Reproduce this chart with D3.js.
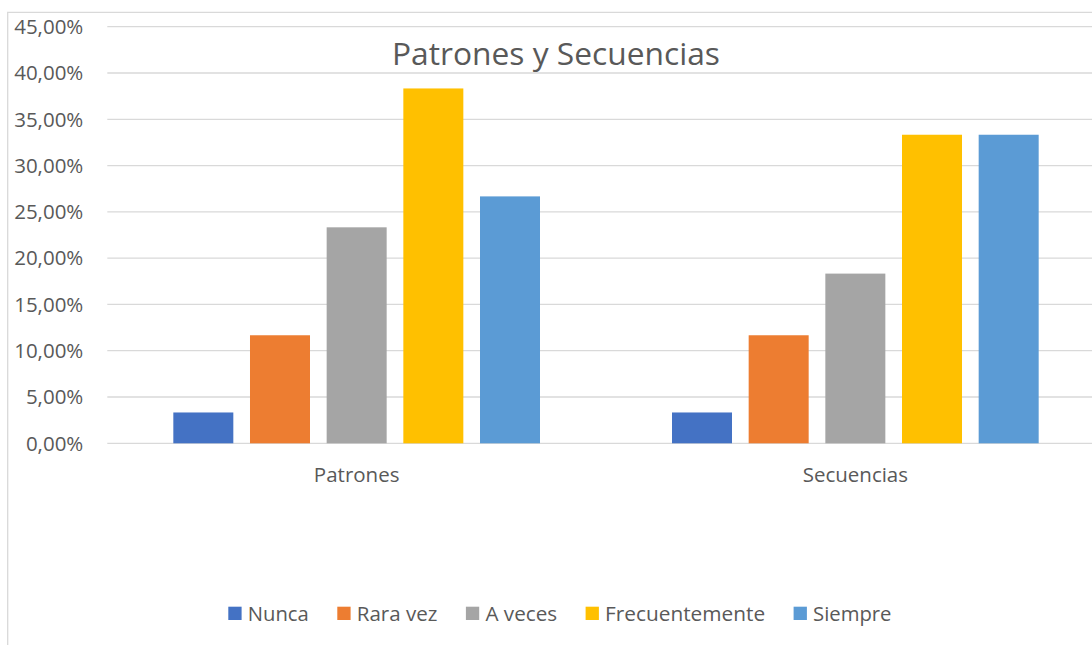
<!DOCTYPE html>
<html>
<head>
<meta charset="utf-8">
<script src="https://cdn.jsdelivr.net/npm/d3@7"></script>
<style>
  html, body { margin: 0; padding: 0; background: #fff; }
  svg { display: block; }
  text { font-family: "Open Sans", "Noto Sans", sans-serif; fill: #595959; }
</style>
</head>
<body>
<svg id="chart" width="1092" height="645"></svg>
<script>
// ---- data ----
const title = "Patrones y Secuencias";
const categories = ["Patrones", "Secuencias"];
const series = ["Nunca", "Rara vez", "A veces", "Frecuentemente", "Siempre"];
const patronesValues = [0.0333, 0.1167, 0.2333, 0.3833, 0.2667];
const secuenciasValues = [0.0333, 0.1167, 0.1833, 0.3333, 0.3333];
const yTicks = [0, 0.05, 0.10, 0.15, 0.20, 0.25, 0.30, 0.35, 0.40, 0.45];
const seriesColors = ["#4472C4", "#ED7D31", "#A5A5A5", "#FFC000", "#5B9BD5"];

// ---- layout (not data) ----
const W = 1092, H = 645;
const plot = { left: 107.3, right: 1104.7, top: 26.7, bottom: 443.3 };
const legendTextWidths = [61, 80.6, 71.7, 160, 78.4];

const svg = d3.select("#chart");
svg.append("rect").attr("width", W).attr("height", H).attr("fill", "#fff");

// outer border (chart area frame, cropped)
svg.append("path")
  .attr("d", `M7.7,${H} V12.3 H${W}`)
  .attr("fill", "none").attr("stroke", "#D9D9D9").attr("stroke-width", 1.3);

const y = d3.scaleLinear().domain([0, 0.45]).range([plot.bottom, plot.top]);
const x0 = d3.scaleBand().domain(categories).range([plot.left, plot.right])
  .paddingInner(0.2647).paddingOuter(0.1324);
const x1 = d3.scaleBand().domain(series).range([0, x0.bandwidth()])
  .paddingInner(0.2174).paddingOuter(0);

const locale = d3.formatLocale({ decimal: ",", thousands: ".", grouping: [3], currency: ["", "€"] });
const fmt = locale.format(".2%");

// gridlines
svg.append("g").selectAll("line").data(yTicks).join("line")
  .attr("x1", plot.left).attr("x2", W)
  .attr("y1", d => y(d)).attr("y2", d => y(d))
  .attr("stroke", "#D9D9D9").attr("stroke-width", 1.3);

// y axis labels via d3 axis
const yAxis = d3.axisLeft(y).tickValues(yTicks).tickFormat(fmt).tickSize(0).tickPadding(0);
const yg = svg.append("g").attr("transform", "translate(83.3,0)").call(yAxis);
yg.select(".domain").remove();
yg.selectAll("text")
  .attr("font-family", null)
  .attr("font-size", null)
  .style("font-size", "20.5px")
  .style("fill", "#595959")
  .attr("dy", "0.33em");

// title
svg.append("text")
  .attr("x", 556).attr("y", 65)
  .attr("text-anchor", "middle")
  .style("font-size", "31px")
  .attr("textLength", 328).attr("lengthAdjust", "spacingAndGlyphs")
  .text(title);

// bars
const dataByCat = [patronesValues, secuenciasValues];
const groups = svg.append("g").selectAll("g").data(categories).join("g")
  .attr("transform", d => `translate(${x0(d)},0)`);
groups.selectAll("rect")
  .data((c, ci) => series.map((s, si) => ({ s, si, v: dataByCat[ci][si] })))
  .join("rect")
  .attr("x", d => x1(d.s))
  .attr("width", x1.bandwidth())
  .attr("y", d => y(d.v))
  .attr("height", d => y(0) - y(d.v))
  .attr("fill", d => seriesColors[d.si]);

// category labels
const xAxis = d3.axisBottom(x0).tickSize(0).tickPadding(0);
const xg = svg.append("g").attr("transform", "translate(0,482.3)").call(xAxis);
xg.select(".domain").remove();
xg.selectAll("text")
  .attr("font-family", null).attr("font-size", null)
  .attr("dy", 0).attr("y", 0)
  .style("font-size", "20.5px").style("fill", "#595959");

// legend
const leg = svg.append("g");
let lx = 228.3;
series.forEach((s, i) => {
  leg.append("rect").attr("x", lx).attr("y", 606.7).attr("width", 13.3).attr("height", 13.3)
    .attr("fill", seriesColors[i]);
  leg.append("text").attr("x", lx + 13.3 + 6.2).attr("y", 620.5)
    .style("font-size", "19.6px")
    .attr("textLength", legendTextWidths[i]).attr("lengthAdjust", "spacingAndGlyphs")
    .text(s);
  lx += 13.3 + 6.2 + legendTextWidths[i] + 28.5;
});
</script>
</body>
</html>
